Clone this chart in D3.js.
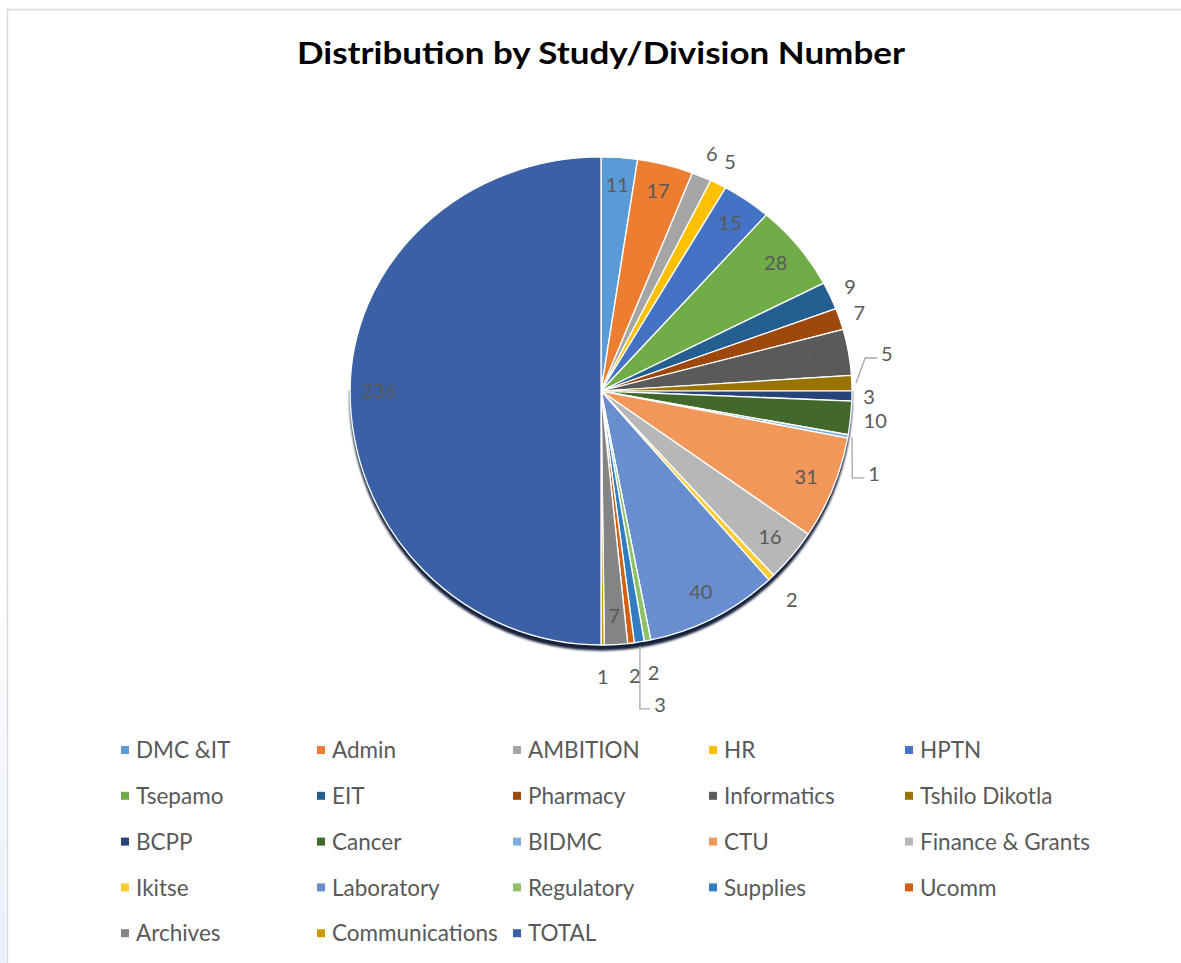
<!DOCTYPE html>
<html>
<head>
<meta charset="utf-8">
<script src="https://cdn.jsdelivr.net/npm/d3@7/dist/d3.min.js"></script>
<style>
  html, body { margin: 0; padding: 0; background: #fff; }
  svg { display: block; }
</style>
</head>
<body>
<svg id="chart" width="1181" height="963"></svg>
<script>
// ---------------- DATA ----------------
const title = "Distribution by Study/Division Number";
const categories = ["DMC &IT","Admin","AMBITION","HR","HPTN","Tsepamo","EIT","Pharmacy","Informatics","Tshilo Dikotla","BCPP","Cancer","BIDMC","CTU","Finance & Grants","Ikitse","Laboratory","Regulatory","Supplies","Ucomm","Archives","Communications","TOTAL"];
const values = [11,17,6,5,15,28,9,7,15,5,3,10,1,31,16,2,40,2,3,2,7,1,236];
const colors = ["#5B9BD5","#ED7D31","#A5A5A5","#FFC000","#4472C4","#70AD47","#255E91","#9E480E","#5A5A5A","#997300","#264478","#43682B","#7CAFDD","#F1975A","#B7B7B7","#FFCD33","#698ED0","#8CC168","#327DC2","#D26012","#848484","#CC9A00","#3B60A5"];

// label placement config (styling)
const outsideLabels = new Set(["AMBITION","HR","EIT","Pharmacy","Tshilo Dikotla","BCPP","Cancer","BIDMC","Ikitse","Regulatory","Supplies","Ucomm","Communications"]);
// callout labels: angle shift (deg) and radius factor, drawn with a leader line
const callouts = {"Tshilo Dikotla": {dA: -6, f: 1.15}, "BIDMC": {dA: 6.4, f: 1.136}, "Supplies": {dA: -2, f: 1.258}};

// ---------------- LAYOUT ----------------
const svg = d3.select("#chart");
const W = 1181, H = 963;
const cx = 601, cy = 391, R = 244;
const Rx = 251, RyTop = 234, RyBot = 254;   // slightly distorted (photographed) pie
const labelColor = "#595959";
const font = "Lato, 'Open Sans', sans-serif";

const defs = svg.append("defs");
const lg = defs.append("linearGradient").attr("id","strip").attr("x1",0).attr("y1",0).attr("x2",0).attr("y2",1);
lg.append("stop").attr("offset","0%").attr("stop-color","#ffffff");
lg.append("stop").attr("offset","100%").attr("stop-color","#e8f0fa");
svg.append("rect").attr("x",0).attr("y",560).attr("width",6).attr("height",H-560).attr("fill","url(#strip)");
svg.append("rect").attr("x",7.5).attr("y",9.5).attr("width",W+20).attr("height",H+20)
  .attr("fill","#fff").attr("stroke","#d9d9d9").attr("stroke-width",1.5);

// title
const t = svg.append("text").attr("x", 601).attr("y", 64).attr("text-anchor","middle")
  .attr("font-family", font).attr("font-weight","bold").attr("font-size", 31)
  .attr("fill","#000").text(title);
const tw = t.node().getComputedTextLength();
if (Math.abs(tw - 608) > 4) t.attr("textLength", 608).attr("lengthAdjust","spacingAndGlyphs");

// pie
const pie = d3.pie().sort(null).value(d => d.value);
const data = categories.map((c,i) => ({name:c, value:values[i], color:colors[i]}));
const arcs = pie(data);
const arc = d3.arc().innerRadius(0).outerRadius(R);

const blur = defs.append("filter").attr("id","sh").attr("x","-10%").attr("y","-10%").attr("width","120%").attr("height","120%");
blur.append("feGaussianBlur").attr("stdDeviation",1.2);
defs.append("clipPath").attr("id","clipTop").append("rect").attr("x",-400).attr("y",-400).attr("width",800).attr("height",400.6);
defs.append("clipPath").attr("id","clipBot").append("rect").attr("x",-400).attr("y",-0.6).attr("width",800).attr("height",400);

function drawHalf(ry, clipId, withShadow) {
  const g = svg.append("g")
    .attr("transform", `translate(${cx},${cy}) scale(${Rx/R},${ry/R})`)
    .attr("clip-path", `url(#${clipId})`);
  if (withShadow) {
    g.append("circle").attr("cx",0).attr("cy",5).attr("r",R+0.5).attr("fill","#17233d").attr("filter","url(#sh)");
  }
  g.selectAll("path.slice").data(arcs).enter().append("path")
    .attr("class","slice")
    .attr("d", arc)
    .attr("fill", d => d.data.color)
    .attr("stroke","#ffffff").attr("stroke-width",1.3).attr("stroke-linejoin","round");
}
drawHalf(RyBot, "clipBot", true);
drawHalf(RyTop, "clipTop", false);

// projection of (angle, radius factor) onto the pie
const proj = (a, f) => [cx + Rx*f*Math.sin(a), cy - (Math.cos(a) >= 0 ? RyTop : RyBot)*f*Math.cos(a)];

const leaderG = svg.append("g");
const labelG = svg.append("g").attr("font-family", font).attr("font-size", 20).attr("fill", labelColor);

arcs.forEach(d => {
  const mid = (d.startAngle + d.endAngle)/2;
  const name = d.data.name;
  const txt = labelG.append("text").attr("dy","0.36em").attr("text-anchor","middle").text(d.data.value);
  const w = txt.node().getComputedTextLength();
  let p;
  if (callouts[name]) {
    const c = callouts[name];
    p = proj(mid + c.dA*Math.PI/180, c.f);
  } else if (outsideLabels.has(name)) {
    const e = proj(mid, 1);
    const s = Math.sin(mid), c = Math.cos(mid);
    const off = 11 + Math.abs(s)*w/2 + Math.abs(c)*(c >= 0 ? 13 : 21);
    p = [e[0] + off*s, e[1] - off*c];
  } else {
    p = proj(mid, 0.885);
  }
  txt.attr("x", p[0]).attr("y", p[1]);
  if (callouts[name]) {
    const s = proj(mid, 1 + 4/R);
    const e = [p[0] - w/2 - 4, p[1] + 4];
    const elbow = [Math.max(s[0], e[0] - 12), e[1]];
    leaderG.append("polyline")
      .attr("points", [s, elbow, e].map(q => q.join(",")).join(" "))
      .attr("fill","none").attr("stroke","#a6a6a6").attr("stroke-width",1.3);
  }
});

// legend
const legend = svg.append("g").attr("font-family", font).attr("font-size", 22.5).attr("fill", labelColor);
const colW = 196, rowH = 45.8, lx0 = 121, ly0 = 750;
data.forEach((d,i) => {
  const col = i % 5, row = Math.floor(i / 5);
  const x = lx0 + col*colW, y = ly0 + row*rowH;
  legend.append("rect").attr("x", x).attr("y", y-4).attr("width",8).attr("height",8).attr("fill", d.color);
  legend.append("text").attr("x", x+15).attr("y", y).attr("dy","0.36em").text(d.name);
});
</script>
</body>
</html>
